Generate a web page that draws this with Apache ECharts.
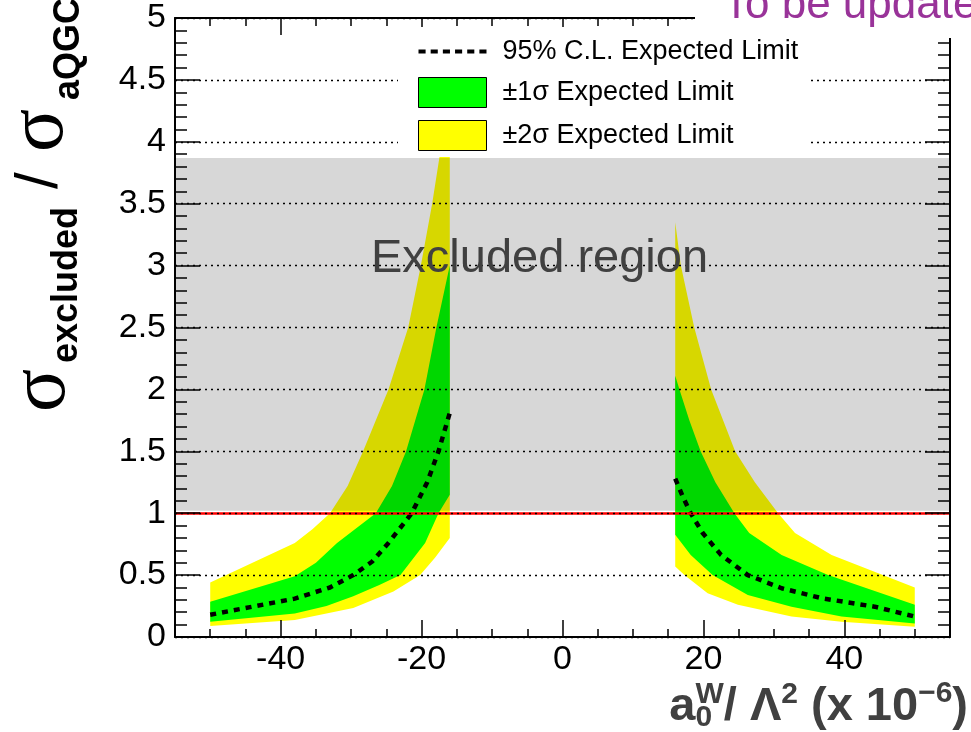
<!DOCTYPE html>
<html>
<head>
<meta charset="utf-8">
<script src="https://cdn.jsdelivr.net/npm/echarts@6/dist/echarts.min.js"></script>
<style>
html, body { margin: 0; padding: 0; background: #fff; }
#chart { width: 971px; height: 732px; }
</style>
</head>
<body>
<div id="chart"></div>
<script>
// axis ticks
const xMajorTicks = [-40, -20, 0, 20, 40]
const xMinorTicks = [-50, -45, -35, -30, -25, -15, -10, -5, 5, 10, 15, 25, 30, 35, 45, 50]

// negative side: band edges and expected limit, [a0W, sigma ratio]
const leftYellowTop = [[-50, 0.44], [-38, 0.76], [-35.5, 0.87], [-33, 1.0], [-30.5, 1.22], [-28.3, 1.5], [-24.7, 2.0], [-21.9, 2.5], [-20.1, 3.0], [-18.5, 3.5], [-17.4, 3.9], [-16, 3.9]]
const leftGreenTop = [[-50, 0.285], [-38, 0.49], [-35, 0.6], [-32, 0.76], [-26.5, 1.0], [-24.2, 1.22], [-22.2, 1.5], [-19.6, 2.0], [-17.9, 2.5], [-16, 3.0]]
const leftGreenBottom = [[-50, 0.124], [-38, 0.19], [-33.5, 0.25], [-29.7, 0.33], [-26, 0.42], [-23, 0.5], [-19.5, 0.76], [-17.6, 1.0], [-16, 1.15]]
const leftYellowBottom = [[-50, 0.089], [-38, 0.137], [-29.7, 0.235], [-24, 0.367], [-20.2, 0.5], [-18.1, 0.64], [-16, 0.8]]
const leftMedian = [[-50, 0.18], [-44, 0.245], [-38, 0.31], [-33, 0.4], [-29.7, 0.5], [-27, 0.61], [-24.7, 0.76], [-21.4, 1.0], [-19.2, 1.25], [-17.6, 1.5], [-16, 1.81]]

// positive side
const rightYellowTop = [[16, 3.35], [16.8, 3.0], [18.7, 2.5], [21.1, 2.0], [24.5, 1.5], [27.3, 1.25], [30.6, 1.0], [33, 0.84], [38.2, 0.663], [50, 0.4]]
const rightGreenTop = [[16, 2.11], [16.6, 2.0], [18, 1.75], [19.6, 1.5], [21.7, 1.25], [24.4, 1.0], [26.5, 0.84], [31.1, 0.663], [37.7, 0.5], [50, 0.26]]
const rightGreenBottom = [[16, 0.825], [18.2, 0.663], [21.3, 0.5], [26.3, 0.34], [32.5, 0.245], [39.6, 0.165], [50, 0.11]]
const rightYellowBottom = [[16, 0.57], [17.3, 0.5], [20.6, 0.353], [24.9, 0.26], [32.5, 0.165], [39.6, 0.124], [50, 0.083]]
const rightMedian = [[16, 1.28], [17.1, 1.13], [18.2, 1.0], [19.9, 0.84], [22.5, 0.663], [26.3, 0.5], [31.1, 0.394], [36.8, 0.313], [44.3, 0.245], [50, 0.165]]

// excluded region: sigma ratio above 1 (shaded up to 3.87)
const excludedRange = [[-55, 1.02, 55, 3.87]]
const exclusionLine = 1

const fontFamily = '"Liberation Sans", Arial, Helvetica, sans-serif'
const serifFamily = '"Liberation Serif", "Times New Roman", serif'

const chart = echarts.init(document.getElementById('chart'))

const yellowSides = [[leftYellowTop, leftYellowBottom], [rightYellowTop, rightYellowBottom]]
const greenSides = [[leftGreenTop, leftGreenBottom], [rightGreenTop, rightGreenBottom]]

function bandRenderer(sides, color) {
  return function (params, api) {
    const [top, bottom] = sides[params.dataIndex]
    const points = top.concat(bottom.slice().reverse()).map(p => api.coord(p))
    return { type: 'polygon', shape: { points }, style: { fill: color } }
  }
}

function excludedRenderer(params, api) {
  const p0 = api.coord([api.value(0), api.value(3)])
  const p1 = api.coord([api.value(2), api.value(1)])
  return {
    type: 'rect',
    shape: { x: p0[0], y: p0[1], width: p1[0] - p0[0], height: p1[1] - p0[1] },
    style: { fill: 'rgba(0,0,0,0.155)' }
  }
}

const measureCtx = document.createElement('canvas').getContext('2d')
const textWidth = (str, font) => {
  measureCtx.font = font
  return measureCtx.measureText(str).width
}

const fontOf = (size, bold, family) => (bold ? 'bold ' : '') + size + 'px ' + (family || fontFamily)

// text placed by its baseline
function baselineText(x, baseline, str, size, bold, family, fill) {
  const k = family === serifFamily ? 0.34 : 0.35
  return {
    type: 'text',
    x: x,
    y: baseline - k * size,
    style: {
      text: str,
      font: fontOf(size, bold, family),
      fill: fill || '#000',
      align: 'left',
      textAlign: 'left',
      verticalAlign: 'middle',
      textVerticalAlign: 'middle'
    }
  }
}

// x axis title, laid out run by run and right aligned
const xTitleRuns = [
  { text: 'a', size: 47, dy: 0 },
  { text: '0', size: 30, dy: 5, stack: true },
  { text: 'W', size: 30, dy: -18 },
  { text: '/ Λ', size: 47, dy: 0 },
  { text: '2', size: 30, dy: -18 },
  { text: ' (x 10', size: 47, dy: 0 },
  { text: '\u22126', size: 30, dy: -19 },
  { text: ')', size: 47, dy: 0 }
]

function layoutXTitle(rightX, baseline) {
  const placed = []
  let cursor = 0
  let stackW = 0
  xTitleRuns.forEach(run => {
    const w = textWidth(run.text, fontOf(run.size, true))
    placed.push({ run, x: cursor })
    if (run.stack) {
      stackW = w
    } else {
      cursor += Math.max(w, stackW)
      stackW = 0
    }
  })
  const start = rightX - cursor
  return placed.map(p => baselineText(start + p.x, baseline + p.run.dy, p.run.text, p.run.size, true, fontFamily, '#404040'))
}

const yTitle = {
  type: 'group',
  x: 0,
  y: 420,
  rotation: Math.PI / 2,
  children: [
    baselineText(8, 70, '\u03c3', 80, false, serifFamily),
    baselineText(57, 80, 'excluded', 36, true),
    baselineText(231, 61, '/', 60, false),
    baselineText(268, 68, '\u03c3', 80, false, serifFamily),
    baselineText(320, 82, 'aQGC', 36, true)
  ]
}

const tickStyle = { color: '#000', width: 1.5 }
const axisLineStyle = { color: '#000', width: 2 }
const dashIcon = 'path://M0,0H7V4H0ZM12,0H19V4H12ZM24,0H31V4H24ZM36,0H43V4H36ZM48,0H55V4H48ZM60,0H67V4H60Z'

const option = {
  animation: false,
  backgroundColor: '#fff',
  textStyle: { fontFamily },

  grid: [
    { left: 175, right: 21, top: 18, bottom: 95 },
    { left: 175, right: 21, top: 18, bottom: 95 }
  ],

  xAxis: [
    {
      type: 'value', gridIndex: 0, position: 'bottom', min: -55, max: 55, z: 6,
      axisLine: { show: true, onZero: false, lineStyle: axisLineStyle },
      axisTick: { show: true, inside: true, length: 17, customValues: xMajorTicks, lineStyle: tickStyle },
      axisLabel: { show: true, customValues: xMajorTicks, fontSize: 34, color: '#000', margin: 6, fontFamily },
      splitLine: { show: false }
    },
    {
      type: 'value', gridIndex: 0, position: 'top', min: -55, max: 55, z: 6,
      axisLine: { show: true, onZero: false, lineStyle: axisLineStyle },
      axisTick: { show: true, inside: true, length: 17, customValues: xMajorTicks, lineStyle: tickStyle },
      axisLabel: { show: false },
      splitLine: { show: false }
    },
    {
      type: 'value', gridIndex: 1, position: 'bottom', min: -55, max: 55, z: 6,
      axisLine: { show: false },
      axisTick: { show: true, inside: true, length: 8, customValues: xMinorTicks, lineStyle: tickStyle },
      axisLabel: { show: false },
      splitLine: { show: false }
    },
    {
      type: 'value', gridIndex: 1, position: 'top', min: -55, max: 55, z: 6,
      axisLine: { show: false },
      axisTick: { show: true, inside: true, length: 8, customValues: xMinorTicks, lineStyle: tickStyle },
      axisLabel: { show: false },
      splitLine: { show: false }
    }
  ],

  yAxis: [
    {
      type: 'value', gridIndex: 0, position: 'left', min: 0, max: 5, interval: 0.5, z: 6,
      axisLine: { show: true, onZero: false, lineStyle: axisLineStyle },
      axisTick: { show: true, inside: true, length: 25, lineStyle: tickStyle },
      minorTick: { show: true, splitNumber: 5, length: 12, lineStyle: tickStyle },
      axisLabel: { show: true, fontSize: 34, color: '#000', margin: 9, fontFamily },
      splitLine: { show: true, lineStyle: { color: '#000', width: 1.4, type: [2, 4] } }
    },
    {
      type: 'value', gridIndex: 0, position: 'right', min: 0, max: 5, interval: 0.5, z: 6,
      axisLine: { show: true, onZero: false, lineStyle: axisLineStyle },
      axisTick: { show: true, inside: true, length: 25, lineStyle: tickStyle },
      minorTick: { show: true, splitNumber: 5, length: 12, lineStyle: tickStyle },
      axisLabel: { show: false },
      splitLine: { show: false }
    },
    {
      type: 'value', gridIndex: 1, min: 0, max: 5, show: false
    }
  ],

  legend: {
    orient: 'vertical',
    left: 398,
    top: 27,
    padding: [11, 10, 6, 20],
    backgroundColor: '#fff',
    itemWidth: 68,
    itemHeight: 30,
    itemGap: 12,
    z: 10,
    selectedMode: false,
    textStyle: { fontSize: 27, color: '#000', fontFamily, padding: [0, 0, 0, 11] },
    data: [
      { name: '95% C.L. Expected Limit', icon: dashIcon },
      { name: '±1σ Expected Limit', icon: 'rect', itemStyle: { borderColor: '#000', borderWidth: 1 } },
      { name: '±2σ Expected Limit', icon: 'rect', itemStyle: { borderColor: '#000', borderWidth: 1 } }
    ]
  },

  series: [
    {
      name: '±2σ Expected Limit',
      type: 'custom',
      xAxisIndex: 0, yAxisIndex: 0,
      z: 2,
      silent: true,
      itemStyle: { color: '#ffff00' },
      renderItem: bandRenderer(yellowSides, '#ffff00'),
      data: [[-33, 0.5], [33, 0.5]]
    },
    {
      name: '±1σ Expected Limit',
      type: 'custom',
      xAxisIndex: 0, yAxisIndex: 0,
      z: 2,
      silent: true,
      itemStyle: { color: '#00ff00' },
      renderItem: bandRenderer(greenSides, '#00ff00'),
      data: [[-30, 0.4], [30, 0.4]]
    },
    {
      name: 'excluded',
      type: 'custom',
      xAxisIndex: 0, yAxisIndex: 0,
      z: 3,
      silent: true,
      renderItem: excludedRenderer,
      data: excludedRange,
      markLine: {
        silent: true,
        symbol: ['none', 'none'],
        label: { show: false },
        lineStyle: { color: '#ff0000', width: 2.5, type: 'solid' },
        data: [{ yAxis: exclusionLine }]
      }
    },
    {
      name: '95% C.L. Expected Limit',
      type: 'line',
      xAxisIndex: 0, yAxisIndex: 0,
      z: 4,
      symbol: 'none',
      silent: true,
      itemStyle: { color: '#000' },
      lineStyle: { color: '#000', width: 4.5, type: [6, 6] },
      data: leftMedian
    },
    {
      name: '95% C.L. Expected Limit',
      type: 'line',
      xAxisIndex: 0, yAxisIndex: 0,
      z: 4,
      symbol: 'none',
      silent: true,
      itemStyle: { color: '#000' },
      lineStyle: { color: '#000', width: 4.5, type: [6, 6] },
      data: rightMedian
    }
  ],

  graphic: [
    Object.assign(baselineText(371, 275, 'Excluded region', 47, false, fontFamily, '#404040'), { z: 8 }),
    Object.assign(yTitle, { z: 8 }),
    { type: 'group', z: 8, children: layoutXTitle(968, 723) },
    {
      type: 'rect', z: 20,
      shape: { x: 695, y: 0, width: 276, height: 38 },
      style: { fill: '#fff' }
    },
    Object.assign(baselineText(723, 21, 'To be updated', 44, false, fontFamily, '#993399'), { z: 21 })
  ]
}

chart.setOption(option)
</script>
</body>
</html>
